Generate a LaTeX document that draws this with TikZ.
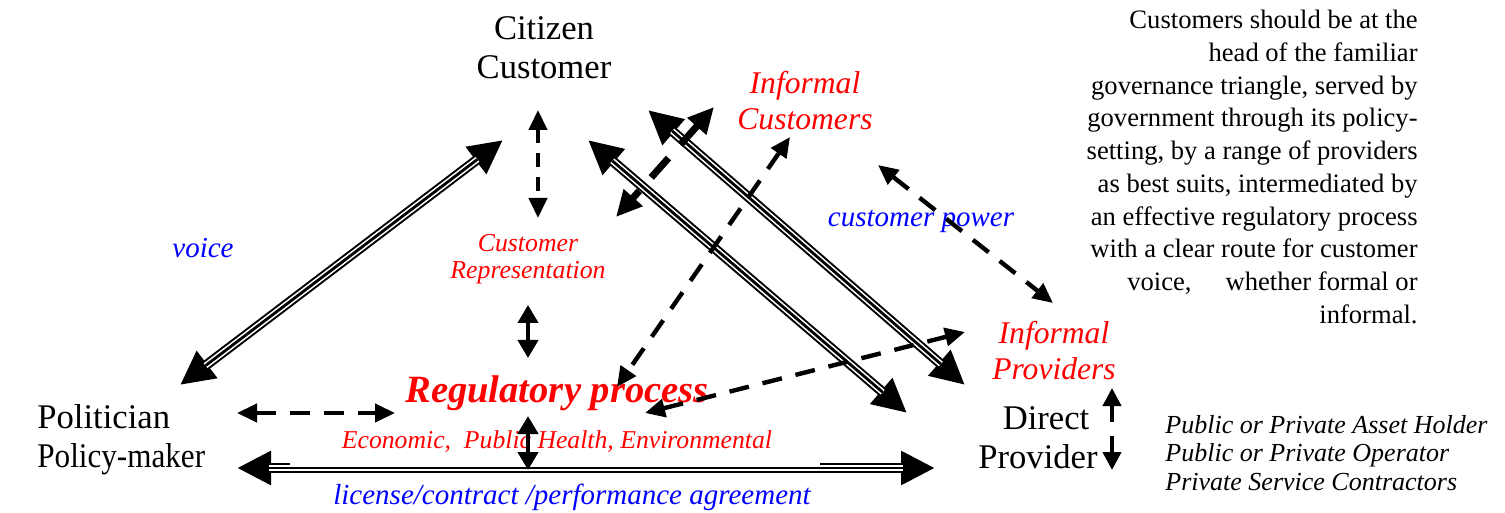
\documentclass[tikz,border=0pt]{standalone}
\usepackage{fontspec}
\setmainfont{Liberation Serif}
\usepackage{graphicx}
\usetikzlibrary{arrows.meta}
\newcommand\fs[2]{\fontsize{#1}{#2}\selectfont}
\begin{document}
\begin{tikzpicture}[x=0.5pt,y=-0.5pt,
  lbl/.style={inner sep=0pt, align=center},
  actor/.style={lbl, font=\fs{17.3}{19.5}},
  redit/.style={lbl, text=red, font=\itshape\fs{15.8}{18}},
  bluit/.style={lbl, text=blue, font=\itshape\fs{14.5}{16}},
  trip/.style={line width=5pt, {Triangle[length=17pt,width=16pt]}-{Triangle[length=17pt,width=16pt]},
    postaction={draw=white, line width=3pt, -, shorten <=16pt, shorten >=16pt},
    postaction={draw=black, line width=1.4pt, -, shorten <=16pt, shorten >=16pt}},
  dsh/.style={line width=2.2pt, dash pattern=on 10pt off 7pt,
    {Triangle[length=10pt,width=9pt]}-{Triangle[length=10pt,width=9pt]}},
  dshthick/.style={line width=3.5pt, dash pattern=on 13pt off 9pt,
    {Triangle[length=13pt,width=12pt]}-{Triangle[length=13pt,width=12pt]}},
  sol/.style={line width=2pt, {Triangle[length=9pt,width=10pt]}-{Triangle[length=9pt,width=10pt]}},
  solone/.style={line width=2pt, -{Triangle[length=9pt,width=9pt]}}
]
\useasboundingbox (0,0) rectangle (1505,513);

% actors
\node[actor] (cit) at (544,48) {Citizen\\Customer};
\node[actor, align=left, anchor=west] (pol) at (37,440) {Politician\\\scalebox{0.9}[1]{Policy-maker}};
\node[actor] (dir) at (1038,438) {\hspace*{8pt}Direct\\Provider};

% other labels
\node[redit] (icust) at (805,101) {Informal\\Customers};
\node[redit] (iprov) at (1054,351) {Informal\\Providers};
\node[lbl, text=red, font=\itshape\fs{12.9}{13.5}] (crep) at (528,259) {Customer\\Representation};
\node[bluit] (voice) at (203,248) {voice};
\node[bluit] (cpow) at (921,221) {customer power};
\node[lbl, text=red, font=\bfseries\itshape\fs{19.3}{20}] (reg) at (557,393) {Regulatory process};
\node[lbl, text=red, font=\itshape\fs{12.85}{14}] (econ) at (557,442) {Economic,\ \ Public Health, Environmental};
\node[bluit] (lic) at (572,497) {license/contract /performance agreement};

\node[lbl, align=right, anchor=north east, font=\fs{13.3}{16.35}] (txt) at (1418,10)
  {Customers should be at the\\head of the familiar\\governance triangle, served by\\government through its policy-\\setting, by a range of providers\\as best suits, intermediated by\\an effective regulatory process\\with a clear route for customer\\voice,\hspace{17pt}whether formal or\\informal.};
\node[lbl, align=left, anchor=west, font=\itshape\fs{13}{14.3}] (roles) at (1165,453)
  {Public or Private Asset Holder\\Public or Private Operator\\Private Service Contractors};

% triple arrows
\coordinate (a1) at (180,385); \coordinate (a2) at (503,140);
\coordinate (b1) at (588,140); \coordinate (b2) at (907,413);
\coordinate (c1) at (648,110); \coordinate (c2) at (965,385);
\coordinate (h1) at (237,468); \coordinate (h2) at (935,468);
\draw[trip] (a1) -- (a2);
\draw[trip] (b1) -- (b2);
\draw[trip] (c1) -- (c2);
\draw[trip] (h1) -- (h2);
\fill[white] (290,462) rectangle (820,466.5);

% dashed arrows
\coordinate (d1) at (538,110); \coordinate (d2) at (538,218);
\coordinate (e1) at (714,107); \coordinate (e2) at (616,217);
\coordinate (f1) at (790,137); \coordinate (f2) at (617,387);
\coordinate (g1) at (965,332); \coordinate (g2) at (645,413);
\coordinate (k1) at (878,165); \coordinate (k2) at (1053,303);
\coordinate (m1) at (237,413); \coordinate (m2) at (395,413);
\draw[dsh, dash pattern=on 7pt off 5pt] (d1) -- (d2);
\draw[dshthick] (e1) -- (e2);
\draw[dsh] (f1) -- (f2);
\draw[dsh] (g1) -- (g2);
\draw[dsh] (k1) -- (k2);
\draw[dsh] (m1) -- (m2);

% solid small arrows
\coordinate (s1) at (528,305); \coordinate (s2) at (528,358);
\coordinate (t1) at (528,416); \coordinate (t2) at (528,470);
\draw[sol] (s1) -- (s2);
\draw[sol, line width=2.4pt] (t1) -- (t2);
\coordinate (u1) at (1112,422); \coordinate (u2) at (1112,388);
\coordinate (w1) at (1112,436); \coordinate (w2) at (1112,470);
\draw[solone] (u1) -- (u2);
\draw[solone] (w1) -- (w2);
\end{tikzpicture}
\end{document}
